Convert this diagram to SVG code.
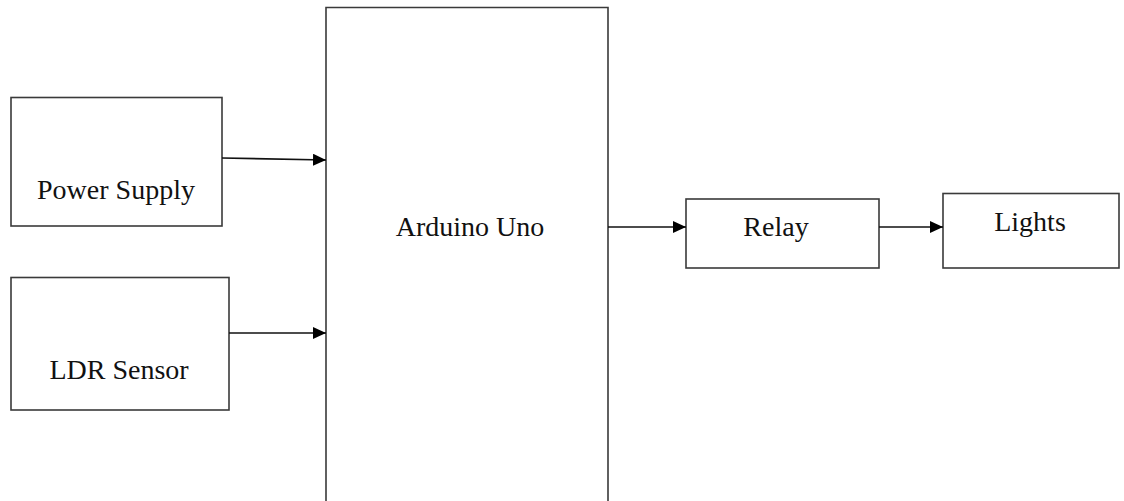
<svg xmlns="http://www.w3.org/2000/svg" width="1124" height="501" viewBox="0 0 1124 501">
<style>
.box{fill:#fff;stroke:#3a3a3a;stroke-width:1.6}
.lbl{font-family:'Liberation Serif','DejaVu Serif','Noto Serif',serif;font-size:28px;fill:#111;text-anchor:middle}
.conn{stroke:#111;stroke-width:1.6;fill:none;marker-end:url(#ah)}
</style>
<defs>
<marker id="ah" viewBox="0 0 13 12" refX="13" refY="6" markerWidth="13" markerHeight="12" markerUnits="userSpaceOnUse" orient="auto">
<path d="M0,0 L13,6 L0,12 Z" fill="#000"/>
</marker>
</defs>
<rect width="1124" height="501" fill="#fff"/>
<g id="power-supply">
<rect class="box" x="11" y="97.5" width="211" height="128.5"/>
<text class="lbl" font-family="Liberation Serif, serif" x="116" y="199">Power Supply</text>
</g>
<g id="ldr-sensor">
<rect class="box" x="11" y="277.5" width="218" height="132.5"/>
<text class="lbl" font-family="Liberation Serif, serif" x="119" y="379">LDR Sensor</text>
</g>
<g id="arduino-uno">
<path class="box" d="M326,501 V7.5 H608 V501"/>
<text class="lbl" font-family="Liberation Serif, serif" x="470" y="236">Arduino Uno</text>
</g>
<g id="relay">
<rect class="box" x="686" y="199" width="193" height="69"/>
<text class="lbl" font-family="Liberation Serif, serif" x="776" y="236">Relay</text>
</g>
<g id="lights">
<rect class="box" x="943" y="193.5" width="176" height="74.5"/>
<text class="lbl" font-family="Liberation Serif, serif" x="1030" y="231">Lights</text>
</g>
<g id="connectors">
<path class="conn" d="M222,158 L326,160"/>
<path class="conn" d="M229,333 L326,333"/>
<path class="conn" d="M608,227 L686,227"/>
<path class="conn" d="M879,227 L943,227"/>
</g>
</svg>
